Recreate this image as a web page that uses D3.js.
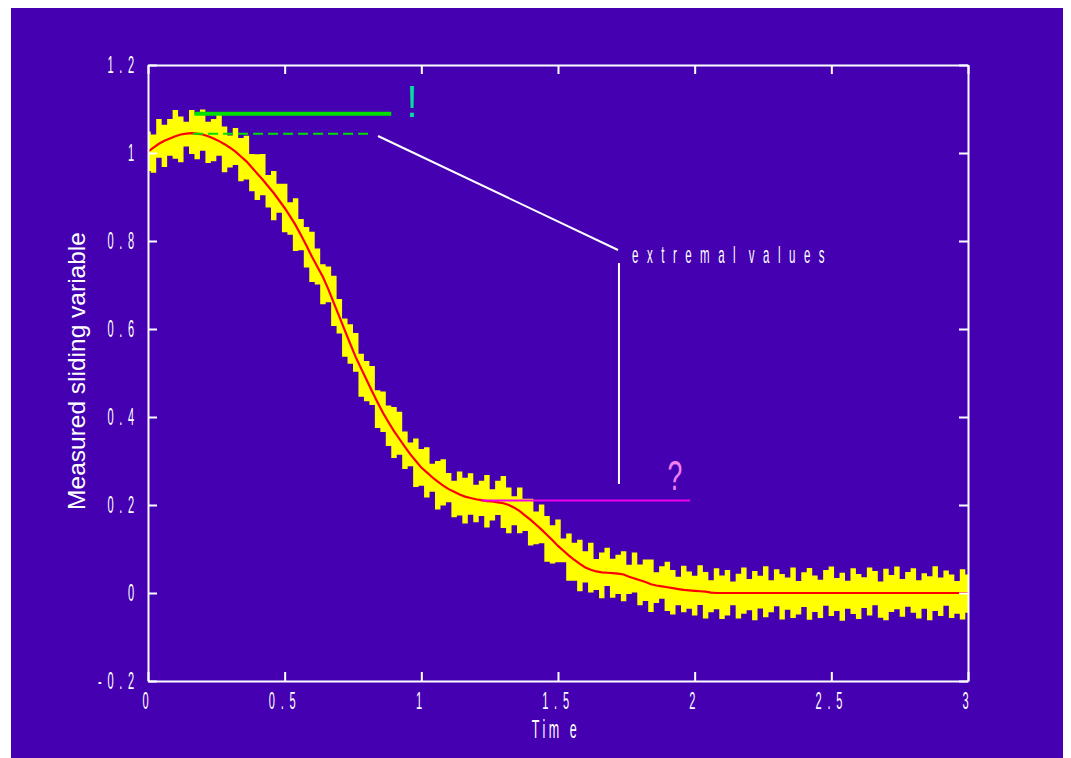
<!DOCTYPE html>
<html lang="en">
<head>
<meta charset="utf-8">
<title>Measured sliding variable</title>
<script src="https://d3js.org/d3.v7.min.js"></script>
<style>
  body { margin: 0; background: #fff; }
  svg { display: block; }
  .tick text, .cond { font-family: "Liberation Sans", Arial, sans-serif; fill: #fff; }
</style>
</head>
<body>
<script>
// reference (red) sliding variable, sampled every 0.02 s from t = 0 to t = 3
var timeStep = 0.02;
var refSignal = [
  1.003,1.012,1.021,1.028,1.033,1.038,1.042,1.044,1.045,1.044,
  1.042,1.038,1.033,1.027,1.020,1.012,1.003,0.992,0.981,0.967,
  0.953,0.939,0.924,0.909,0.892,0.875,0.856,0.836,0.813,0.789,
  0.764,0.741,0.718,0.690,0.659,0.628,0.597,0.566,0.536,0.510,
  0.484,0.458,0.433,0.409,0.388,0.368,0.350,0.332,0.315,0.300,
  0.285,0.274,0.263,0.253,0.244,0.236,0.230,0.224,0.219,0.216,
  0.213,0.211,0.209,0.208,0.206,0.204,0.200,0.194,0.186,0.176,
  0.166,0.155,0.144,0.132,0.120,0.107,0.096,0.085,0.075,0.066,
  0.058,0.053,0.049,0.047,0.046,0.045,0.044,0.042,0.037,0.033,
  0.029,0.025,0.020,0.017,0.015,0.013,0.011,0.009,0.007,0.006,
  0.005,0.004,0.003,0.001,0,0,0,0,0,0,
  0,0,0,0,0,0,0,0,0,0,
  0,0,0,0,0,0,0,0,0,0,
  0,0,0,0,0,0,0,0,0,0,
  0,0,0,0,0,0,0,0,0,0,
  0
];

// measurement noise: upper / lower excursion of the yellow band (thousandths)
var noiseHi = [
  46,30,56,36,44,60,41,27,53,45,
  57,33,44,61,40,28,54,42,58,31,
  44,59,26,50,38,55,32,61,37,43,
  57,42,29,52,62,40,27,45,55,34,
  43,58,28,49,38,55,62,35,27,51,
  42,57,31,47,60,37,25,52,43,56,
  33,44,59,28,49,62,40,26,54,38,
  48,30,57,43,34,60,28,50,39,55,
  37,61,28,45,57,33,43,53,27,59,
  36,51,56,30,46,58,41,28,55,43,
  34,59,45,28,56,40,52,26,44,58,
  32,50,39,61,29,54,43,35,58,27,
  47,57,40,30,52,60,34,46,28,56,
  43,36,58,50,26,55,41,60,32,48,
  56,29,45,38,61,35,51,42,27,54,
  42
];
var noiseLo = [
  44,57,32,60,39,51,63,29,47,58,
  37,61,52,33,64,45,30,56,41,54,
  60,35,48,62,28,55,42,59,34,49,
  57,40,62,29,52,38,60,45,33,64,
  48,31,58,43,54,61,36,50,27,59,
  41,57,33,63,45,30,58,48,61,38,
  52,36,60,43,29,56,64,40,50,35,
  58,44,31,61,53,37,26,57,47,62,
  34,52,42,59,30,56,46,61,39,32,
  57,43,63,40,28,54,60,37,51,42,
  56,31,61,45,37,59,51,28,58,47,
  39,62,35,55,44,30,60,38,57,49,
  32,61,43,57,29,52,41,63,36,48,
  59,34,51,28,56,62,43,37,54,31,
  45,58,36,62,41,52,29,57,47,60,
  45
];

// extremal value markers
var maxMeasured = { t0: 0.17, t1: 0.89, v: 1.089 };
var maxReference = { t0: 0.165, t1: 0.805, v: 1.044 };
var plateauLevel = { t0: 1.22, t1: 1.983, v: 0.21 };
var pointerLines = [
  [[0.8415, 1.0386], [1.7195, 0.7795]],
  [[1.723, 0.75], [1.723, 0.2477]]
];

var xTicks = [0, 0.5, 1, 1.5, 2, 2.5, 3];
var xTickLabels = ["0", "0.5", "1", "1.5", "2", "2.5", "3"];
var yTicks = [-0.2, 0, 0.2, 0.4, 0.6, 0.8, 1, 1.2];
var yTickLabels = ["-0.2", "0", "0.2", "0.4", "0.6", "0.8", "1", "1.2"];

var W = 1071, H = 758;
var svg = d3.select("body").append("svg").attr("width", W).attr("height", H);

svg.append("rect").attr("x", 11).attr("y", 8).attr("width", 1052).attr("height", 750)
   .attr("fill", "#4500b1");

var x = d3.scaleLinear().domain([0, 3]).range([148, 968]);
var y = d3.scaleLinear().domain([-0.2, 1.2]).range([681, 65]);

var times = refSignal.map(function(d, i){ return i * timeStep; });

// yellow noisy measurement band
var band = d3.area()
    .x(function(d, i){ return x(times[i]); })
    .y0(function(d, i){ return y(d - noiseLo[i] / 1000); })
    .y1(function(d, i){ return y(d + noiseHi[i] / 1000); })
    .curve(d3.curveStep);

svg.append("path").datum(refSignal)
   .attr("d", band).attr("fill", "#ffff00");

// red reference
var line = d3.line()
    .x(function(d, i){ return x(times[i]); })
    .y(function(d){ return y(d); });

svg.append("path").datum(refSignal)
   .attr("d", line).attr("fill", "none")
   .attr("stroke", "#ff0000").attr("stroke-width", 2.2);

// extremal value lines
svg.append("line")
   .attr("x1", x(maxMeasured.t0)).attr("x2", x(maxMeasured.t1))
   .attr("y1", y(maxMeasured.v)).attr("y2", y(maxMeasured.v))
   .attr("stroke", "#00e000").attr("stroke-width", 4);
svg.append("line")
   .attr("x1", x(maxReference.t0)).attr("x2", x(maxReference.t1))
   .attr("y1", y(maxReference.v)).attr("y2", y(maxReference.v))
   .attr("stroke", "#00e000").attr("stroke-width", 2)
   .attr("stroke-dasharray", "10,5");
svg.append("line")
   .attr("x1", x(plateauLevel.t0)).attr("x2", x(plateauLevel.t1))
   .attr("y1", y(plateauLevel.v)).attr("y2", y(plateauLevel.v))
   .attr("stroke", "#f000f0").attr("stroke-width", 2);

svg.selectAll(".pointer").data(pointerLines).enter().append("line")
   .attr("class", "pointer")
   .attr("x1", function(d){ return x(d[0][0]); }).attr("y1", function(d){ return y(d[0][1]); })
   .attr("x2", function(d){ return x(d[1][0]); }).attr("y2", function(d){ return y(d[1][1]); })
   .attr("stroke", "#fff").attr("stroke-width", 2);

// condensed text helper (scaled horizontally like the original output)
function condText(px, py, str, size, sx, anchor, color, spacing) {
  return svg.append("text").attr("class", "cond")
    .attr("transform", "translate(" + px + "," + py + ") scale(" + sx + ",1)")
    .attr("text-anchor", anchor)
    .style("font-size", size + "px")
    .style("letter-spacing", spacing + "px")
    .style("fill", color)
    .text(str);
}

condText(x(1.771), y(0.75), "extremal values", 23, 0.5, "start", "#fff", 17)
  .style("word-spacing", "-14px");
condText(x(0.966), y(1.082), "!", 45, 0.85, "middle", "#00e0a0", 0);
condText(x(1.928), y(0.234), "?", 43, 0.62, "middle", "#f080f0", 0);

// axes, ticks inward on all four sides
function styleAxis(g) {
  g.selectAll("path.domain").attr("stroke", "#fff").attr("stroke-width", 2);
  g.selectAll(".tick line").attr("stroke", "#fff").attr("stroke-width", 2);
}

var gLeft = svg.append("g").attr("transform", "translate(148,0)")
  .call(d3.axisLeft(y).tickValues(yTicks).tickSize(-9).tickSizeOuter(0)
        .tickFormat(function(d, i){ return yTickLabels[i]; }));
var gRight = svg.append("g").attr("transform", "translate(968,0)")
  .call(d3.axisRight(y).tickValues(yTicks).tickSize(-9).tickSizeOuter(0).tickFormat(""));
var gBottom = svg.append("g").attr("transform", "translate(0,681)")
  .call(d3.axisBottom(x).tickValues(xTicks).tickSize(-9).tickSizeOuter(0)
        .tickFormat(function(d, i){ return xTickLabels[i]; }));
var gTop = svg.append("g").attr("transform", "translate(0,65)")
  .call(d3.axisTop(x).tickValues(xTicks).tickSize(-9).tickSizeOuter(0).tickFormat(""));

[gLeft, gRight, gBottom, gTop].forEach(styleAxis);

gLeft.selectAll(".tick text")
  .attr("x", null).attr("dy", null)
  .attr("text-anchor", "end")
  .attr("transform", "translate(-8,7.5) scale(0.48,1)")
  .style("font-size", "23px").style("letter-spacing", "12px");
gBottom.selectAll(".tick text")
  .attr("y", null).attr("dy", null)
  .attr("text-anchor", "middle")
  .attr("transform", "translate(0,27.5) scale(0.48,1)")
  .style("font-size", "23px").style("letter-spacing", "12px");

// axis titles
condText(556, 738, "Tim e", 25, 0.5, "middle", "#fff", 7);
svg.append("text")
  .attr("transform", "translate(85,371) rotate(-90)")
  .attr("text-anchor", "middle")
  .style("font-family", "Liberation Sans, Arial, sans-serif")
  .style("font-size", "24.5px")
  .style("fill", "#fff")
  .text("Measured sliding variable");
</script>
</body>
</html>
